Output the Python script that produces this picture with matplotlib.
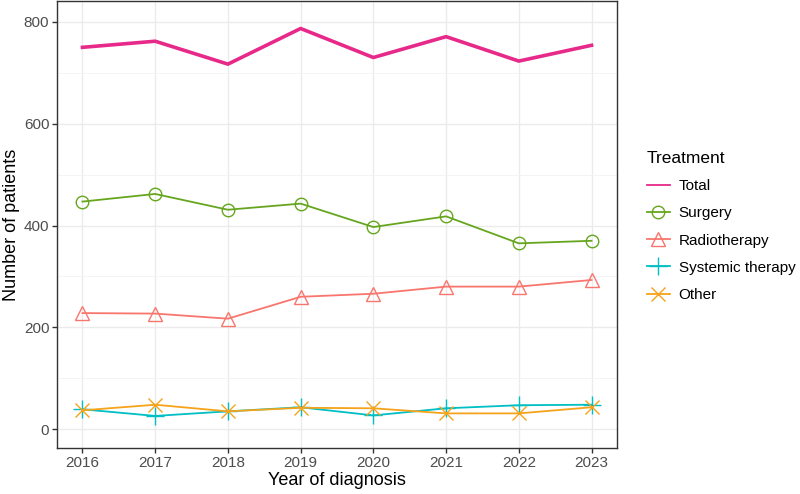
import matplotlib
matplotlib.use('Agg')
import matplotlib.pyplot as plt
from matplotlib.ticker import MultipleLocator

plt.rcParams['font.family'] = ['Liberation Sans', 'DejaVu Sans']

# Daten
years = [2016, 2017, 2018, 2019, 2020, 2021, 2022, 2023]
total = [750, 762, 717, 787, 730, 771, 723, 754]
surgery = [447, 462, 431, 443, 397, 418, 365, 370]
radiotherapy = [228, 227, 217, 260, 266, 280, 280, 293]
systemic = [39, 26, 35, 43, 27, 41, 47, 48]
other = [37, 48, 35, 42, 41, 31, 31, 43]

series = [
    ('Total', total, '#E7298A', None, 2.6, 0),
    ('Surgery', surgery, '#66A61E', 'o', 1.3, 9),
    ('Radiotherapy', radiotherapy, '#F8766D', '^', 1.3, 10),
    ('Systemic therapy', systemic, '#00BFC4', '+', 1.3, 13),
    ('Other', other, '#F5A31A', 'x', 1.3, 10),
]

grid_major = '#EBEBEB'
border = '#333333'
tick_text = '#4D4D4D'

fig = plt.figure(figsize=(8, 4.94), dpi=100, facecolor='white')
ax = fig.add_axes([57 / 800, 46 / 494, 560 / 800, 447 / 494])

for label, values, color, marker, lw, ms in series:
    ax.plot(years, values, color=color, lw=lw, marker=marker, markersize=ms,
            markerfacecolor='none', markeredgecolor=color, markeredgewidth=1.0,
            label=label)

# Achsen im Stil von theme_bw
ax.set_xlim(2015.65, 2023.35)
ax.set_ylim(-37, 841)
ax.set_xticks(years)
ax.yaxis.set_major_locator(MultipleLocator(200))
ax.yaxis.set_minor_locator(MultipleLocator(100))
ax.grid(which='major', color=grid_major, lw=1.0)
ax.grid(which='minor', axis='y', color='#F2F2F2', lw=0.6)
ax.set_axisbelow(True)

for sp in ax.spines.values():
    sp.set_color(border)
    sp.set_linewidth(1.0)

ax.tick_params(which='major', length=3.5, width=1.0, color=border,
               labelsize=11, labelcolor=tick_text, pad=2)
ax.tick_params(which='minor', length=0)

ax.set_xlabel('Year of diagnosis', fontsize=13, labelpad=2)
ax.set_ylabel('Number of patients', fontsize=13, labelpad=3)

leg = fig.legend(loc='upper left', bbox_to_anchor=(639 / 800, 1 - 143 / 494),
                 frameon=False, title='Treatment', title_fontsize=12.5,
                 fontsize=11, borderpad=0, labelspacing=0.87,
                 handlelength=1.5, handletextpad=0.6, alignment='left')
# Legendenlinie fuer Total duenner wie im Original
leg.get_lines()[0].set_linewidth(1.3)

fig.savefig('out.png', dpi=100, facecolor='white')
